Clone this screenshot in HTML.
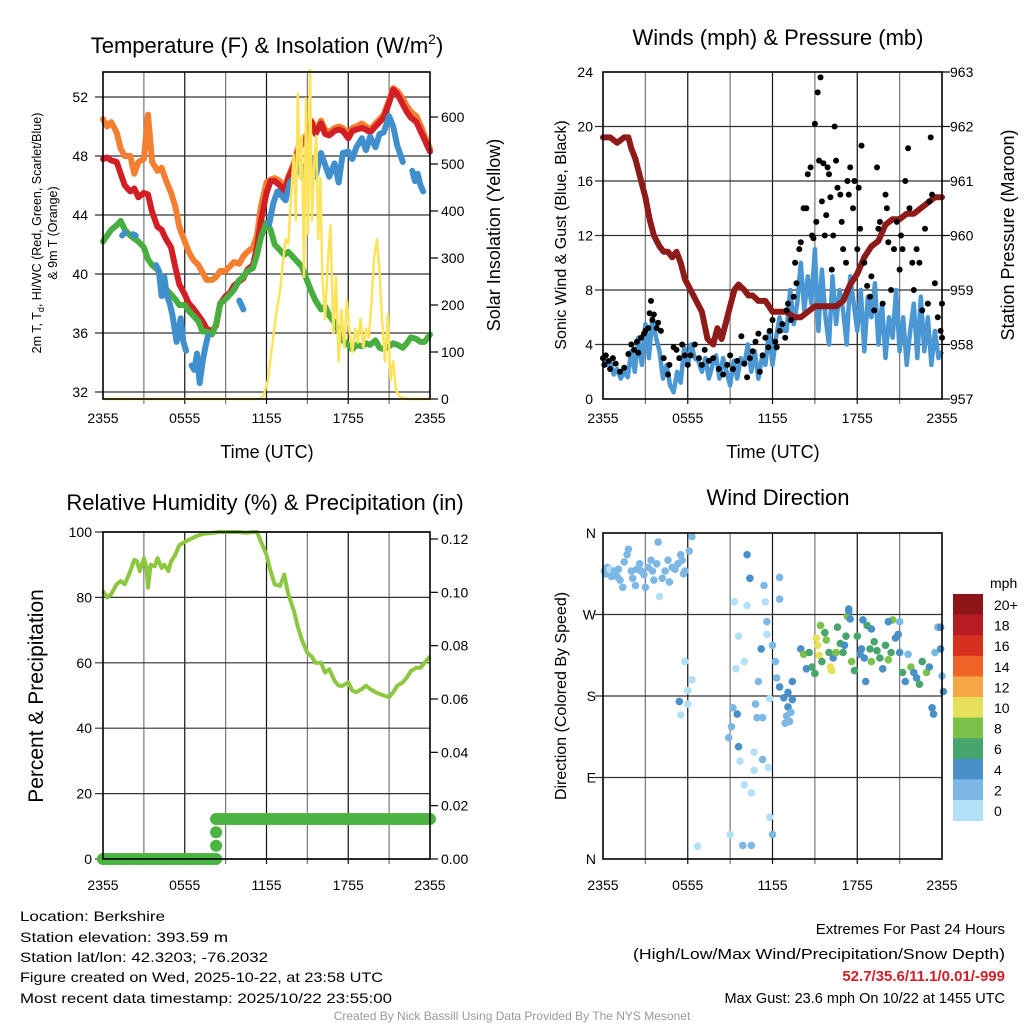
<!DOCTYPE html>
<html><head><meta charset="utf-8"><style>
html,body{margin:0;padding:0;background:#fff;}
svg{display:block;font-family:"Liberation Sans",sans-serif;}
</style></head><body>
<svg id="fig" width="1024" height="1024" viewBox="0 0 1024 1024">
<rect x="0" y="0" width="1024" height="1024" fill="#fff"/>
<text x="267" y="53" font-size="22" text-anchor="middle">Temperature (F) &amp; Insolation (W/m<tspan font-size="14" dy="-9">2</tspan><tspan dy="9">)</tspan></text>
<text x="778" y="45" font-size="22" text-anchor="middle">Winds (mph) &amp; Pressure (mb)</text>
<text x="265" y="510" font-size="22" text-anchor="middle">Relative Humidity (%) &amp; Precipitation (in)</text>
<text x="778" y="505" font-size="22" text-anchor="middle">Wind Direction</text>

<g id="p1"></g>
<g id="p2"></g>
<g id="p3"></g>
<g id="p4"></g>

<text transform="translate(41,233) rotate(-90)" font-size="12.5" text-anchor="middle">2m T, T<tspan font-size="9" dy="3">d</tspan><tspan dy="-3">, HI/WC (Red, Green, Scarlet/Blue)</tspan></text>
<text transform="translate(57,233) rotate(-90)" font-size="12.5" text-anchor="middle">&amp; 9m T (Orange)</text>
<text transform="translate(500,235) rotate(-90)" font-size="18" text-anchor="middle">Solar Insolation (Yellow)</text>
<text x="267" y="458" font-size="18" text-anchor="middle">Time (UTC)</text>
<text transform="translate(566,235) rotate(-90)" font-size="16" text-anchor="middle">Sonic Wind &amp; Gust (Blue, Black)</text>
<text transform="translate(1014,235) rotate(-90)" font-size="18" text-anchor="middle">Station Pressure (Maroon)</text>
<text x="773" y="458" font-size="18" text-anchor="middle">Time (UTC)</text>
<text transform="translate(43,696) rotate(-90)" font-size="21" text-anchor="middle">Percent &amp; Precipitation</text>
<text transform="translate(566,696) rotate(-90)" font-size="16" text-anchor="middle">Direction (Colored By Speed)</text>

<g id="cbar"></g>
<text x="990" y="588" font-size="14">mph</text>

<g font-size="14">
<text x="20" y="921" textLength="145" lengthAdjust="spacingAndGlyphs">Location: Berkshire</text>
<text x="20" y="942" textLength="208" lengthAdjust="spacingAndGlyphs">Station elevation: 393.59 m</text>
<text x="20" y="962" textLength="248" lengthAdjust="spacingAndGlyphs">Station lat/lon: 42.3203; -76.2032</text>
<text x="20" y="982" textLength="363" lengthAdjust="spacingAndGlyphs">Figure created on Wed, 2025-10-22, at 23:58 UTC</text>
<text x="20" y="1003" textLength="372" lengthAdjust="spacingAndGlyphs">Most recent data timestamp: 2025/10/22 23:55:00</text>
</g>
<g font-size="15" text-anchor="end">
<text x="1005" y="934">Extremes For Past 24 Hours</text>
<text x="1005" y="959" textLength="372" lengthAdjust="spacingAndGlyphs">(High/Low/Max Wind/Precipitation/Snow Depth)</text>
<text x="1005" y="981" fill="#d0202a" font-weight="bold">52.7/35.6/11.1/0.01/-999</text>
<text x="1005" y="1003" font-size="14.5">Max Gust: 23.6 mph On 10/22 at 1455 UTC</text>
</g>
<text x="512" y="1020" font-size="12" fill="#999" text-anchor="middle">Created By Nick Bassill Using Data Provided By The NYS Mesonet</text>
</svg>
<script>
// ---------- Panel 1 data ----------
const tempHours = [0,0.3,0.6,1,1.3,1.6,2,2.3,2.6,3,3.3,3.6,4,4.3,4.6,5,5.3,5.6,6,6.3,6.6,7,7.3,7.6,8,8.3,8.6,9,9.3,9.6,10,10.3,10.6,11,11.3,11.6,12,12.3,12.6,13,13.3,13.6,14,14.3,14.6,15,15.3,15.6,16,16.3,16.6,17,17.3,17.6,18,18.3,18.6,19,19.3,19.6,20,20.3,20.6,21,21.3,21.6,22,22.3,22.6,23,23.3,23.6,24];
const temp2m = [47.8,47.9,47.7,47.6,46.8,46,45.6,45.8,45.2,45.5,45.4,44.2,43.2,43,42.4,41.8,40.5,39.3,38.6,38,37.7,37.2,36.8,36.3,36.1,36.5,38,38.5,38.7,39.2,39.5,39.7,40.3,40.6,41.8,43.6,45.5,46.3,46.3,46,45.5,46.5,47.3,48.3,48.8,49.3,50.3,49.5,50.2,49.5,49.4,49.7,49.8,49.7,49.2,49.7,49.8,49.9,49.8,49.6,50,50.3,50.6,51.6,52.5,52.2,51.5,51,50.6,50.3,49.7,49.1,48.3];
const temp9m = [50.5,50,50.3,49.6,48.5,48,48,46.8,47.6,47.8,50.8,47.6,47,47.2,46.4,45.5,44.6,43.2,42.2,41.5,41,40.6,40.1,39.6,39.6,39.8,40.2,40.2,40.5,40.8,40.7,41.2,41.5,41.8,42.6,44.6,46.2,46.4,46.5,46.3,45.7,46.6,47.5,48.5,49,49.5,50.4,49.7,50.4,49.8,49.6,49.9,50,49.9,49.5,49.9,50,50.2,50,49.8,50.2,50.5,50.8,51.8,52.6,52.4,51.9,51.4,51,50.7,50.1,49.4,48.5];
const tempDew = [42.2,42.6,43,43.3,43.6,43,42.6,42.4,42.2,41.8,41,40.6,40.3,39.8,39,38.6,38.3,37.9,37.9,37.5,37.2,36.8,36.1,36.1,35.9,36.6,38,38.3,38.6,38.9,39.6,39.8,40.2,40.4,41.3,42.5,43.5,43,42,41.6,41.3,41.5,41.1,40.8,40.5,39.5,38.8,38.2,37.6,37.8,37.2,36.7,36.1,35.5,35.2,34.9,35.2,35.1,35.3,35.2,35.5,35,34.9,35.1,35.3,35.2,35,35.3,35.7,35.6,35.4,35.4,35.9];
const feelsHours = [1.4,1.6,null,2.2,2.4,null,3.9,4.1,4.3,4.5,4.7,4.9,5.1,5.4,5.7,5.9,6.1,null,6.5,6.7,6.9,7.1,7.3,7.5,7.7,null,10.0,10.3,null,12.2,12.5,12.8,13.1,13.4,13.7,14,14.3,14.6,15,15.3,15.6,16,16.3,16.6,17,17.3,17.6,18,18.3,18.6,19,19.3,19.6,20,20.3,20.6,21,21.3,21.6,22,null,22.7,22.9,23.1,23.3,23.5];
const feelsLike = [42.6,42.8,null,42.7,42.6,null,40.6,40.2,38.5,39.8,38.5,38,37.2,35.4,37,35.4,34.8,null,33.8,33.5,34.6,32.6,34,35,35.8,null,38.2,37.6,null,43.4,44.8,45.6,45.3,45,46.2,46.5,47.5,46.6,47.6,47.8,46.6,48.2,47.4,46.6,47.5,46.2,48.2,48.3,47.8,48.6,49.2,48.4,49.3,48.6,49.5,49.6,50.7,50,48.7,47.6,null,47,46.3,46.8,46,45.6];
const solarHours = [0,11.5,11.8,12.1,12.4,12.7,13,13.2,13.4,13.6,13.8,14,14.15,14.3,14.45,14.6,14.75,14.9,15.05,15.2,15.35,15.5,15.65,15.8,15.95,16.1,16.3,16.5,16.7,16.9,17.1,17.3,17.5,17.7,17.9,18.1,18.3,18.5,18.7,18.9,19.1,19.3,19.5,19.7,19.9,20.1,20.3,20.5,20.7,20.9,21.1,21.3,21.5,21.7,21.9,22.2,22.6,23,24];
const solarValues = [0,0,8,40,110,180,230,290,340,330,430,520,380,650,470,560,260,640,350,700,380,500,560,340,470,260,170,290,370,140,260,80,190,110,210,140,100,150,120,170,110,150,130,200,300,340,270,160,80,180,40,80,20,8,3,1,0,0,0];
// ---------- Panel 2 data ----------
const pressHours = [0,0.5,1,1.5,1.8,2,2.3,2.6,3,3.3,3.6,4,4.3,4.6,4.9,5.2,5.5,5.8,6.2,6.6,7,7.4,7.8,8.1,8.4,8.7,9,9.3,9.6,10,10.3,10.6,11,11.5,12,12.5,13,13.5,14,14.5,15,15.5,16,16.5,17,17.5,18,18.5,19,19.5,20,20.5,21,21.5,22,22.5,23,23.5,24];
const pressure = [961.8,961.8,961.7,961.8,961.8,961.6,961.4,961.1,960.7,960.3,960,959.8,959.7,959.7,959.6,959.7,959.5,959.2,959,958.8,958.6,958.1,958,958.3,958.1,958.4,958.7,959,959.1,959,958.9,958.9,958.8,958.8,958.6,958.6,958.6,958.5,958.5,958.6,958.7,958.7,958.7,958.7,958.8,959.1,959.3,959.6,959.8,959.9,960.2,960.3,960.3,960.4,960.4,960.5,960.6,960.7,960.7];
const windSpeed = [3,2.5,2.8,1.8,2.2,1.5,2,1.6,3.5,2,4.5,2.5,5.5,3,6,4.5,3.5,1.5,2.5,1,0.5,2,1.2,3.8,2.5,4,3,2.8,2,3,1.5,2.5,3.2,1.5,3,2,1,2.8,1.5,3,2.5,4,2,3.5,1.5,3,2.5,5,2.5,4.5,6,5,5,8,5.5,7,10,6.5,9,7,11,5,9.5,6,4,9,5.5,8,6.5,4,9,7,5,8,3.5,7.5,6,8.5,4,7,3,6,4.5,8,3.5,6,2.5,5,7,3,7.5,3.5,6,2.5,5,3,3.5];
const gustHours = [0,0.1,0.2,0.4,0.5,0.7,0.9,1.2,1.5,1.8,2,2.2,2.4,2.5,2.7,2.9,3,3.2,3.3,3.4,3.5,3.6,3.8,3.9,4.1,4.3,4.6,4.7,5,5.2,5.4,5.6,5.8,6,6.2,6.5,6.8,7,7.2,7.5,7.8,8.2,8.5,8.8,9,9.2,9.5,9.8,10,10.2,10.4,10.6,10.8,11,11.1,11.3,11.5,11.7,11.8,12,12.2,12.3,12.5,12.7,12.9,13,13.1,13.3,13.5,13.6,13.7,13.9,14,14.2,14.4,14.5,14.7,14.8,14.9,15,15.1,15.2,15.3,15.4,15.5,15.6,15.7,15.8,15.9,16,16.1,16.2,16.3,16.4,16.5,16.6,16.8,16.9,17,17.2,17.3,17.4,17.5,17.7,17.8,18,18.1,18.2,18.3,18.5,18.7,18.9,19,19.2,19.4,19.5,19.6,19.8,20,20.1,20.2,20.4,20.6,20.8,21,21.1,21.2,21.4,21.6,21.7,21.9,22,22.2,22.4,22.6,22.8,23,23.1,23.2,23.3,23.5,23.7,23.9,24,24];
const gustValues = [3,2.5,3.2,2.8,2.2,3,2.6,2,2.3,3.3,4,3.6,4.2,3.4,4.5,4.8,5,5.2,6.3,7.2,5.8,6.2,5.2,5.6,5,3,1.8,2.5,3.8,3.6,3,4,3.2,2.5,3.2,4,3,2.5,3.6,2.8,3,2.2,1.8,2.5,3.2,2.2,2.8,4.6,2.6,1.6,3,3.5,4.2,4.8,2,3.2,4.5,3.8,5,5.8,4.2,3.8,5,5.5,4.5,6.5,7,5.8,7.5,10,8.5,11,11.5,14,14,16.5,17,12,11.8,20.2,13,22.5,17.5,23.6,14.5,17.3,12,13.5,17,16.5,14.8,9.5,12,20,17.5,15.5,15,13,11,10,16,15,17,14,16,11,15.5,12.5,18.6,10,8.3,7.5,9,6.5,17,12.5,13,7,15,14,11.5,8,11,13,9.5,12,11,16,18.4,14,10,8,11,10,6.5,12.5,7,14.5,19.2,15,8.5,6,5,4.5,7];
// ---------- Panel 3 data ----------
const rhHours = [0,0.3,0.6,1,1.3,1.6,2,2.3,2.5,2.7,3,3.2,3.3,3.5,3.8,4,4.3,4.5,4.8,5,5.3,5.6,6,6.5,7,7.5,8,8.5,9,9.5,10,10.5,11,11.3,11.6,12,12.3,12.6,13,13.3,13.6,14,14.3,14.6,15,15.3,15.6,16,16.3,16.6,17,17.3,17.6,18,18.3,18.6,19,19.3,19.6,20,20.3,20.6,21,21.3,21.6,22,22.3,22.6,23,23.3,23.6,24];
const rhValues = [82,80,81,84,85,84,88,91.5,91,88,92,89,83,90,89.5,92,89,90,88,91,93,96,97,98,99,99.5,99.7,100,100,100,100,99.8,100,100,97,93,88,84,83.5,87,81,76,71,67,63,62,60,60,57,58,54.5,53,53,54,51.5,51,52,53,52,51,50.5,50,49.5,51,53,54,55.5,57.5,58.5,58.5,60,62];
const precipHours = [0,0.25,0.5,0.75,1,1.25,1.5,1.75,2,2.25,2.5,2.75,3,3.25,3.5,3.75,4,4.25,4.5,4.75,5,5.25,5.5,5.75,6,6.25,6.5,6.75,7,7.25,7.5,7.75,8,8.3,8.3,8.3,8.3,8.5,8.75,9,9.25,9.5,9.75,10,10.25,10.5,10.75,11,11.25,11.5,11.75,12,12.25,12.5,12.75,13,13.25,13.5,13.75,14,14.25,14.5,14.75,15,15.25,15.5,15.75,16,16.25,16.5,16.75,17,17.25,17.5,17.75,18,18.25,18.5,18.75,19,19.25,19.5,19.75,20,20.25,20.5,20.75,21,21.25,21.5,21.75,22,22.25,22.5,22.75,23,23.25,23.5,23.75,24];
const precipValues = [0,0,0,0,0,0,0,0,0,0,0,0,0,0,0,0,0,0,0,0,0,0,0,0,0,0,0,0,0,0,0,0,0,0,0.005,0.01,0.015,0.015,0.015,0.015,0.015,0.015,0.015,0.015,0.015,0.015,0.015,0.015,0.015,0.015,0.015,0.015,0.015,0.015,0.015,0.015,0.015,0.015,0.015,0.015,0.015,0.015,0.015,0.015,0.015,0.015,0.015,0.015,0.015,0.015,0.015,0.015,0.015,0.015,0.015,0.015,0.015,0.015,0.015,0.015,0.015,0.015,0.015,0.015,0.015,0.015,0.015,0.015,0.015,0.015,0.015,0.015,0.015,0.015,0.015,0.015,0.015,0.015,0.015,0.015];
// ---------- Panel 4 data ----------
const dirHours = [0.1,0.2,0.3,0.5,0.6,0.8,1.0,1.1,1.2,1.4,1.5,1.7,1.8,2.0,2.1,2.3,2.4,2.6,2.7,2.9,3.0,3.2,3.4,3.5,3.6,3.8,3.9,4.0,4.2,4.4,4.6,4.7,4.9,5.1,5.3,5.5,5.6,5.7,5.8,6.1,6.3,10.2,9.3,10.2,11.4,11.5,12.5,12.5,11.6,9.6,11.6,11.2,12,12.2,10,9.4,5.8,6.3,6,5.4,6,5.5,11,11.8,9.2,9.5,10.8,10.9,11.3,9.1,8.9,9.6,10.7,9.7,11.3,11.7,10.7,10,10.5,11.8,12,9,9.9,10.5,6.7,10.4,12.3,12.5,12.8,13.1,13.3,12.9,13.2,13.0,13.4,13.1,13.4,14.0,14.2,14.4,14.6,14.8,15.0,15.1,15.2,15.3,15.4,15.5,15.7,15.8,16.0,16.1,16.2,16.3,16.5,16.6,16.8,17.0,17.1,17.2,17.3,17.4,17.5,17.6,17.8,18.0,18.2,18.3,18.5,18.6,18.7,18.9,19.0,19.2,19.4,19.6,19.8,20.0,20.2,20.4,20.5,20.7,20.9,21.0,21.2,21.4,21.6,21.8,22.0,22.2,22.4,22.6,22.9,23.1,23.3,23.4,23.5,23.7,23.9,24.0,24.1,17.4,18.4,19.0,20.2,21.0,23.9];
const dirDegrees = [318,315,322,320,312,318,312,320,308,300,328,336,342,318,310,302,320,326,318,314,300,322,330,318,308,326,350,290,310,318,330,306,322,320,326,336,330,315,318,340,356,336,284,280,302,284,311,287,262,246,248,232,236,218,218,210,218,198,186,174,171,159,196,177,167,160,171,156,156,146,134,124,118,108,110,101,98,82,73,46,27,27,15,15,14,310,200,190,178,168,162,150,152,158,176,184,196,232,226,210,228,212,205,244,236,225,258,218,250,242,228,212,208,222,228,256,238,228,236,246,268,276,265,218,208,246,226,232,222,196,258,232,218,240,230,222,210,236,220,228,264,244,248,228,206,196,226,212,206,200,193,218,206,212,167,160,228,256,232,202,185,274,264,254,262,262,256];
const dirSpeeds = [2,2,2,1,2,2,3,3,2,2,2,2,2,2,2,2,2,3,3,3,3,3,3,2,2,2,2,1,2,2,2,2,3,3,2,2,2,2,2,2,2,4,0,0,2,0,2,2,2,0,0,4,2,2,0,0,0,0,0,4,0,0,2,0,2,4,2,2,2,2,2,4,0,0,2,0,0,0,0,0,2,0,2,2,0,4,2,4,4,4,2,2,2,2,4,4,4,4,8,4,6,6,6,10,10,10,8,6,6,8,6,10,10,4,8,6,6,6,4,6,8,4,4,8,6,6,4,4,4,4,6,6,8,6,6,6,4,6,8,6,8,4,4,4,6,4,2,8,4,4,6,6,8,4,4,4,2,2,4,2,4,4,4,4,4,2,4,4,4,4,4,2];
const speedBinLabels = ["0","2","4","6","8","10","12","14","16","18","20+"];
const speedColors = ["#b3e0f7","#7db8e5","#4a90c8","#49a56e","#7cc14a","#e6e05a","#f5a645","#ef6327","#d7301f","#b71c22","#8e1518"];
const tempTicks = [32,36,40,44,48,52];
const solarTicks = [0,100,200,300,400,500,600];
const timeTickLabels = ["2355","0555","1155","1755","2355"];
const windTicks = [0,4,8,12,16,20,24];
const pressTicks = [957,958,959,960,961,962,963];
const rhTicks = [0,20,40,60,80,100];
const precipTicks = ["0.00","0.02","0.04","0.06","0.08","0.10","0.12"];
const dirTickLabels = ["N","E","S","W","N"];

const NS = "http://www.w3.org/2000/svg";
function mk(parent, tag, attrs){
  const e = document.createElementNS(NS, tag);
  for (const k in attrs) e.setAttribute(k, attrs[k]);
  parent.appendChild(e);
  return e;
}
function scale(d0,d1,r0,r1){ return v => r0 + (v-d0)*(r1-r0)/(d1-d0); }
function pathFrom(xs, ys, fx, fy){
  let d = "", pen = false;
  for (let i=0;i<xs.length;i++){
    if (xs[i]===null || ys[i]===null || xs[i]===undefined || ys[i]===undefined){ pen=false; continue; }
    d += (pen?"L":"M") + fx(xs[i]).toFixed(1) + "," + fy(ys[i]).toFixed(1);
    pen = true;
  }
  return d;
}
function frame(g, L, T, R, B, name){
  const el = mk(g, "rect", {x:L, y:T, width:R-L, height:B-T, fill:"none", stroke:"#000", "stroke-width":1.6});
  
  
}
function gridV(g, L, R, T, B){
  for (let k=1;k<8;k++){
    const x = L + (R-L)*k/8;
    const el = mk(g, "line", {x1:x, x2:x, y1:T, y2:B+5, stroke: k%2 ? "#777" : "#111", "stroke-width":1.2});
    
    
  }
}
function gridH(g, L, R, y, tickOut){
  const el = mk(g, "line", {x1:L-tickOut, x2:R, y1:y, y2:y, stroke:"#333", "stroke-width":1.2});
  
  
}
function label(g, x, y, txt, anchor, size, name){
  const t = mk(g, "text", {x:x, y:y, "font-size":size||14, "text-anchor":anchor||"middle"});
  t.textContent = txt;
  
  
  return t;
}
function xTicks(g, L, R, y){
  for (let i=0;i<timeTickLabels.length;i++){
    const x = L + (R-L)*i/4;
    label(g, x, y, timeTickLabels[i], "middle", 14, "x-tick-label");
  }
}
function rightTick(g, R, y){
  const el = mk(g, "line", {x1:R, x2:R+8, y1:y, y2:y, stroke:"#000", "stroke-width":1.2});
  
  
}

// ===== Panel 1 =====
(function(){
  const g = document.getElementById("p1");
  const L=103,R=430,T=72,B=399;
  const fx = scale(0,24,L,R);
  const fy = scale(32,52,392,97);
  const fs = scale(0,600,399,117);
  gridV(g,L,R,T,B);
  tempTicks.forEach(v => { gridH(g,L,R,fy(v),8); label(g,88,fy(v)+5,String(v),"end",14,"temperature-tick-label"); });
  solarTicks.forEach(v => { rightTick(g,R,fs(v)); label(g,441,fs(v)+5,String(v),"start",14,"insolation-tick-label"); });
  xTicks(g,L,R,423);
  const series = [[temp9m,"#f47f30","orange-9m-temp-line",tempHours],[temp2m,"#d21f26","red-2m-temp-line",tempHours],[tempDew,"#47ae3f","green-dewpoint-line",tempHours],[feelsLike,"#3f8fcc","blue-windchill-line",feelsHours]];
  series.forEach(s => {
    const el = mk(g,"path",{d:pathFrom(s[3],s[0],fx,fy),fill:"none",stroke:s[1],"stroke-width":6,"stroke-linejoin":"round","stroke-linecap":"round"});
    
    
  });
  const sol = mk(g,"path",{d:pathFrom(solarHours,solarValues,fx,fs),fill:"none",stroke:"#fde35a","stroke-width":2.5,"stroke-linejoin":"round"});
  
  
  frame(g,L,T,R,B,"temperature-plot-frame");
})();

// ===== Panel 2 =====
(function(){
  const g = document.getElementById("p2");
  const L=603,R=942,T=72,B=399;
  const fx = scale(0,24,L,R);
  const fy = scale(0,24,B,T);
  const fp = scale(957,963,B,T);
  gridV(g,L,R,T,B);
  windTicks.forEach(v => { if(v>0&&v<24) gridH(g,L,R,fy(v),8); label(g,593,fy(v)+5,String(v),"end",14,"wind-tick-label"); });
  pressTicks.forEach(v => { rightTick(g,R,fp(v)); label(g,950,fp(v)+5,String(v),"start",14,"pressure-tick-label"); });
  xTicks(g,L,R,423);
  const windHours = windSpeed.map((v,i) => i*0.25);
  const wl = mk(g,"path",{d:pathFrom(windHours,windSpeed,fx,fy),fill:"none",stroke:"#4a97d3","stroke-width":4.5,"stroke-linejoin":"round"});
  
  
  const pl = mk(g,"path",{d:pathFrom(pressHours,pressure,fx,fp),fill:"none",stroke:"#8f1a1a","stroke-width":6,"stroke-linejoin":"round","stroke-linecap":"round"});
  
  
  for (let i=0;i<gustHours.length;i++){
    const c = mk(g,"circle",{cx:fx(gustHours[i]).toFixed(1),cy:fy(gustValues[i]).toFixed(1),r:3,fill:"#000"});
    
    
  }
  frame(g,L,T,R,B,"wind-plot-frame");
})();

// ===== Panel 3 =====
(function(){
  const g = document.getElementById("p3");
  const L=103,R=430,T=532,B=859;
  const fx = scale(0,24,L,R);
  const fy = scale(0,100,B,T);
  const fp = scale(0,0.12,B,539);
  gridV(g,L,R,T,B);
  rhTicks.forEach(v => { gridH(g,L,R,fy(v),8); label(g,92,fy(v)+5,String(v),"end",14,"humidity-tick-label"); });
  precipTicks.forEach(v => { rightTick(g,R,fp(+v)); label(g,441,fp(+v)+5,v,"start",14,"precip-tick-label"); });
  xTicks(g,L,R,890);
  const rl = mk(g,"path",{d:pathFrom(rhHours,rhValues,fx,fy),fill:"none",stroke:"#8dc63f","stroke-width":4,"stroke-linejoin":"round"});
  
  
  for (let i=0;i<precipHours.length;i++){
    const c = mk(g,"circle",{cx:fx(precipHours[i]).toFixed(1),cy:fp(precipValues[i]).toFixed(1),r:6,fill:"#4ab342"});
    
    
  }
  frame(g,L,T,R,B,"humidity-plot-frame");
})();

// ===== Panel 4 =====
(function(){
  const g = document.getElementById("p4");
  const L=603,R=942,T=533,B=859;
  const fx = scale(0,24,L,R);
  const fy = scale(0,360,B,T);
  gridV(g,L,R,T,B);
  dirTickLabels.forEach((lab,i) => { const y=fy(i*90); if(i>0&&i<4) gridH(g,L,R,y,8); label(g,596,y+5,lab,"end",14,"direction-tick-label"); });
  xTicks(g,L,R,890);
  for (let i=0;i<dirHours.length;i++){
    const sp = (dirSpeeds[i]===undefined) ? 4 : dirSpeeds[i];
    const bin = Math.min(10, Math.floor(sp/2));
    const c = mk(g,"circle",{cx:fx(dirHours[i]).toFixed(1),cy:fy(dirDegrees[i]).toFixed(1),r:3.8,fill:speedColors[bin]});
    
    
  }
  frame(g,L,T,R,B,"direction-plot-frame");
  const cb = document.getElementById("cbar");
  const cbT=594, cbH=20.6;
  for (let k=0;k<speedColors.length;k++){
    const idx = 10-k;
    const r = mk(cb,"rect",{x:953,y:(cbT+k*cbH).toFixed(1),width:30,height:(cbH+0.4).toFixed(1),fill:speedColors[idx]});
    
    
    label(cb,994,cbT+k*cbH+16,speedBinLabels[idx],"start",14,"colorbar-label");
  }
})();
</script>
</body></html>
